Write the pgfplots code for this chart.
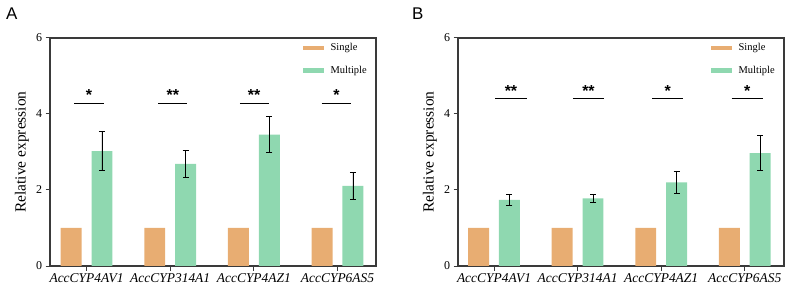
\documentclass[border=0pt]{standalone}
\usepackage{fontspec}
\setmainfont{Liberation Serif}
\setsansfont{Liberation Sans}
\usepackage{pgfplots}
\pgfplotsset{compat=1.18}
\definecolor{cS}{HTML}{E8AD72}
\definecolor{cM}{HTML}{8FD8B0}
\definecolor{axc}{HTML}{3A3A3A}
\tikzset{sigstar/.style={font=\sffamily\bfseries\fontsize{16}{16}\selectfont, anchor=base, inner sep=0pt}}
\pgfplotsset{
 panel/.style={
  scale only axis, width=326bp, height=228bp,
  ymin=0, ymax=6,
  ytick={0,2,4,6}, xtick={0,1,2,3},
  xticklabels={AccCYP4AV1, AccCYP314A1, AccCYP4AZ1, AccCYP6AS5},
  xticklabel style={font=\fontsize{13.5}{14}\selectfont\itshape},
  yticklabel style={font=\fontsize{12}{13}\selectfont},
  /pgf/number format/assume math mode=true,
  tick align=outside, major tick length=4.5bp,
  tick style={axc, line width=1bp},
  axis line style={axc, line width=1.1bp},
  xtick pos=bottom, ytick pos=left,
  ylabel={Relative expression},
  ylabel style={font=\fontsize{15.5}{16}\selectfont, at={(axis description cs:-0.086,0.5)}, anchor=center},
  legend style={draw=none, fill=none, font=\fontsize{10.5}{11}\selectfont, at={(axis description cs:0.77,0.985)}, anchor=north west, row sep=10bp, inner sep=0pt, cells={anchor=west}},
  legend image code/.code={\draw[##1, line width=4.5bp] (0bp,0bp) -- (20.6bp,0bp); \path (25bp,0bp);},
 },
 sbar/.style={ybar, bar width=0.25, bar shift=0pt, fill=cS, draw=none, forget plot},
 mbar/.style={ybar, bar width=0.25, bar shift=0pt, fill=cM, draw=none, forget plot,
   error bars/.cd, y dir=both, y explicit,
   error bar style={black, line width=0.9bp},
   error mark options={rotate=90, black, mark size=3bp, line width=0.9bp}},
 sig/.style={black, line width=0.9bp, forget plot},
}
\begin{document}
\begin{tikzpicture}
\path[use as bounding box] (0,0) rectangle (790bp,292bp);
\node[anchor=base west, inner sep=0pt, font=\sffamily\fontsize{17}{17}\selectfont] at (6bp,272bp) {A};
\node[anchor=base west, inner sep=0pt, font=\sffamily\fontsize{17}{17}\selectfont] at (412bp,272bp) {B};
\begin{axis}[panel, at={(50bp,26bp)}, anchor=south west, xmin=-0.437, xmax=3.46]
\addlegendimage{cS}\addlegendentry{Single}
\addlegendimage{cM}\addlegendentry{Multiple}
\addplot[sbar] coordinates {(-0.1845,1) (0.8155,1) (1.8155,1) (2.8155,1)};
\addplot[mbar] coordinates {(0.1845,3.02) +- (0,0.51) (1.1845,2.69) +- (0,0.35) (2.1845,3.46) +- (0,0.48) (3.1845,2.11) +- (0,0.35)};
\addplot[sig] coordinates {(-0.148,4.27) (0.206,4.27)};
\addplot[sig] coordinates {(0.857,4.27) (1.206,4.27)};
\addplot[sig] coordinates {(1.833,4.27) (2.175,4.27)};
\addplot[sig] coordinates {(2.81,4.27) (3.163,4.27)};
\node[sigstar] at (axis cs:0.029,4.36) {*};
\node[sigstar] at (axis cs:1.031,4.36) {**};
\node[sigstar] at (axis cs:2.004,4.36) {**};
\node[sigstar] at (axis cs:2.987,4.36) {*};
\end{axis}
\begin{axis}[panel, at={(458bp,26bp)}, anchor=south west, xmin=-0.431, xmax=3.47]
\addlegendimage{cS}\addlegendentry{Single}
\addlegendimage{cM}\addlegendentry{Multiple}
\addplot[sbar] coordinates {(-0.1845,1) (0.8155,1) (1.8155,1) (2.8155,1)};
\addplot[mbar] coordinates {(0.1845,1.74) +- (0,0.15) (1.1845,1.78) +- (0,0.10) (2.1845,2.20) +- (0,0.30) (3.1845,2.97) +- (0,0.46)};
\addplot[sig] coordinates {(0.016,4.40) (0.391,4.40)};
\addplot[sig] coordinates {(0.945,4.40) (1.316,4.40)};
\addplot[sig] coordinates {(1.895,4.40) (2.266,4.40)};
\addplot[sig] coordinates {(2.844,4.40) (3.215,4.40)};
\node[sigstar] at (axis cs:0.203,4.47) {**};
\node[sigstar] at (axis cs:1.13,4.47) {**};
\node[sigstar] at (axis cs:2.08,4.47) {*};
\node[sigstar] at (axis cs:3.03,4.47) {*};
\end{axis}
\end{tikzpicture}
\end{document}
